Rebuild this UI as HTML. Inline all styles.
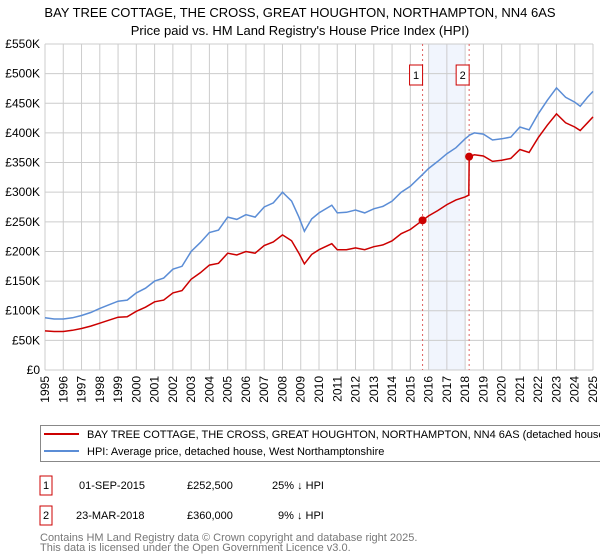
<!DOCTYPE html>
<html><head><meta charset="utf-8"><style>
body{margin:0;background:#fff;font-family:"Liberation Sans","DejaVu Sans",sans-serif;}
svg{display:block}
</style></head><body>
<svg width="600" height="560" viewBox="0 0 600 560">
<text x="300" y="17" text-anchor="middle" font-size="13" fill="#000">BAY TREE COTTAGE, THE CROSS, GREAT HOUGHTON, NORTHAMPTON, NN4 6AS</text>
<text x="300" y="35" text-anchor="middle" font-size="13" fill="#000">Price paid vs. HM Land Registry's House Price Index (HPI)</text>
<g id="plot"></g>
<g>
<rect x="40.5" y="425.5" width="570" height="36" fill="#fff" stroke="#888"/>
<line x1="44" y1="434" x2="79" y2="434" stroke="#cc0000" stroke-width="2"/>
<text x="87" y="438" font-size="11">BAY TREE COTTAGE, THE CROSS, GREAT HOUGHTON, NORTHAMPTON, NN4 6AS (detached house)</text>
<line x1="44" y1="451" x2="79" y2="451" stroke="#5b8dd6" stroke-width="2"/>
<text x="87" y="455" font-size="11">HPI: Average price, detached house, West Northamptonshire</text>
</g>
<g font-size="11">
<rect x="40" y="476" width="12" height="19" fill="#fff" stroke="#cc0000"/><text x="46" y="489" text-anchor="middle">1</text>
<text x="79" y="489">01-SEP-2015</text><text x="187" y="489">£252,500</text><text x="272" y="489">25% ↓ HPI</text>
<rect x="40" y="506" width="12" height="19" fill="#fff" stroke="#cc0000"/><text x="46" y="519" text-anchor="middle">2</text>
<text x="76" y="519">23-MAR-2018</text><text x="187" y="519">£360,000</text><text x="278" y="519">9% ↓ HPI</text>
</g>
<text x="40" y="541" font-size="11" fill="#777">Contains HM Land Registry data © Crown copyright and database right 2025.</text>
<text x="40" y="551" font-size="11" fill="#777">This data is licensed under the Open Government Licence v3.0.</text>
</svg>
<script>
const years=[1995,1995.5,1996,1996.5,1997,1997.5,1998,1998.5,1999,1999.5,2000,2000.5,2001,2001.5,2002,2002.5,2003,2003.5,2004,2004.5,2005,2005.5,2006,2006.5,2007,2007.5,2008,2008.5,2008.9,2009.2,2009.6,2010,2010.7,2011,2011.5,2012,2012.5,2013,2013.5,2014,2014.5,2015,2015.67,2016,2016.5,2017,2017.5,2018,2018.2,2018.22,2018.5,2019,2019.5,2020,2020.5,2021,2021.5,2022,2022.5,2023,2023.5,2024,2024.3,2024.7,2025];
const hpi=[88,86,86,88,92,97,104,110,116,118,130,138,150,155,170,175,200,215,232,236,258,254,262,258,275,282,300,285,258,234,255,265,278,265,266,270,265,272,276,285,300,310,330,340,352,365,375,390,395,396,400,398,388,390,393,410,405,432,455,476,460,452,445,460,470];
const price=[66,65,65,67,70,74,79,84,89,90,99,106,115,118,130,134,153,164,177,180,197,194,200,197,210,216,228,218,197,179,195,203,213,203,203,206,203,208,211,218,230,237,252.5,260,269,279,287,292,295,360,363,361,352,354,357,372,367,392,413,432,417,410,404,417,427];
const yTicks=[0,50,100,150,200,250,300,350,400,450,500,550];
const yTickLabels=["£0","£50K","£100K","£150K","£200K","£250K","£300K","£350K","£400K","£450K","£500K","£550K"];
const xTicks=[1995,1996,1997,1998,1999,2000,2001,2002,2003,2004,2005,2006,2007,2008,2009,2010,2011,2012,2013,2014,2015,2016,2017,2018,2019,2020,2021,2022,2023,2024,2025];
const sales=[{label:"1",year:2015.67,value:252.5},{label:"2",year:2018.22,value:360}];
const shade=[2016,2018];
const X0=45,X1=593,Y0=370,Y1=44;
const xs=y=>X0+(y-1995)/30*(X1-X0);
const ys=v=>Y0-v/550*(Y0-Y1);
const NS="http://www.w3.org/2000/svg";
const g=document.getElementById('plot');
function mk(t,a){const e=document.createElementNS(NS,t);for(const k in a)e.setAttribute(k,a[k]);g.appendChild(e);return e;}
let r=mk('rect',{x:xs(shade[0]),y:Y1,width:xs(shade[1])-xs(shade[0]),height:Y0-Y1,fill:'#eef3fc',opacity:0.8});


xTicks.forEach(t=>{const l=mk('line',{x1:xs(t),x2:xs(t),y1:Y1,y2:Y0,stroke:'#ccc','stroke-width':1});


const tx=mk('text',{x:0,y:0,'font-size':12,'text-anchor':'end',transform:`translate(${xs(t)+4},${Y0+6}) rotate(-90)`});tx.textContent=t;

});
yTicks.forEach((t,i)=>{const l=mk('line',{x1:X0,x2:X1,y1:ys(t),y2:ys(t),stroke:'#ccc','stroke-width':1});


const tx=mk('text',{x:X0-5,y:ys(t)+4,'font-size':12,'text-anchor':'end'});tx.textContent=yTickLabels[i];

});
sales.forEach(s=>{const l=mk('line',{x1:xs(s.year),x2:xs(s.year),y1:Y1,y2:Y0,stroke:'#e06060','stroke-width':1,'stroke-dasharray':'2,3'});

});
const path=(arr,c,n)=>{const p=mk('path',{d:arr.map((v,i)=>(i?'L':'M')+xs(years[i]).toFixed(1)+','+ys(v).toFixed(1)).join(''),fill:'none',stroke:c,'stroke-width':1.5});

};
path(hpi,'#5b8dd6','hpi-line');
path(price,'#cc0000','property-price-line');
sales.forEach(s=>{const c=mk('circle',{cx:xs(s.year),cy:ys(s.value),r:4,fill:'#cc0000'});


const b=mk('rect',{x:xs(s.year)-13,y:65,width:13,height:20,fill:'#fff',stroke:'#cc0000'});


const t=mk('text',{x:xs(s.year)-6.5,y:79,'font-size':11,'text-anchor':'middle'});t.textContent=s.label;

});
</script>
</body></html>
